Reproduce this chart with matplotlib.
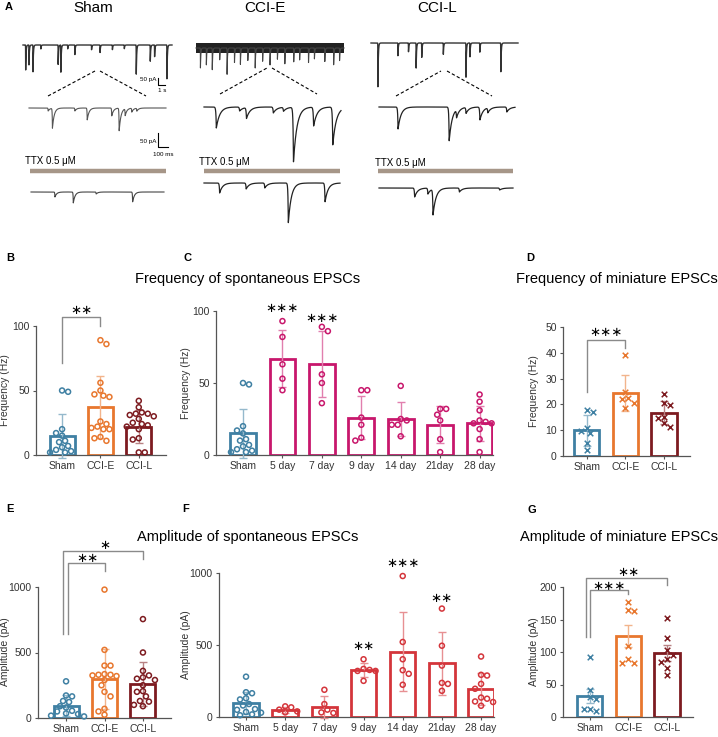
import numpy as np
import matplotlib.pyplot as plt
from matplotlib.colors import to_rgb

W, H = 718, 737
plt.rcParams['font.family'] = ['Liberation Sans', 'DejaVu Sans']

# ---------------- data ----------------
groups3 = ['Sham', 'CCI-E', 'CCI-L']
days = ['Sham', '5 day', '7 day', '9 day', '14 day', '21day', '28 day']

# spontaneous EPSC frequency (Hz)
freq_sham = [50, 49, 20, 17, 15, 11, 10, 7, 6, 4, 3, 2, 2]
freq_ccie = [89, 86, 56, 50, 47, 46, 45, 26, 24, 22, 21, 20, 20, 14, 13, 11]
freq_ccil = [42, 37, 33, 32, 32, 31, 30, 28, 25, 24, 23, 22, 20, 13, 12, 2, 2]
freq3_mean = [15, 37, 22]
freq3_sd = [17, 24, 13]

freq_5d = [93, 82, 63, 53, 45]
freq_7d = [89, 86, 56, 50, 36]
freq_9d = [45, 45, 26, 21, 12, 10]
freq_14d = [48, 25, 24, 21, 21, 13]
freq_21d = [32, 32, 28, 24, 11, 2]
freq_28d = [42, 37, 31, 24, 23, 22, 22, 18, 11, 2]
freq_days_mean = [15, 67, 63, 26, 25, 21, 22]
freq_days_sd = [17, 20, 23, 15, 12, 13, 12]

# miniature EPSC frequency (Hz)
mfreq_sham = [18, 17, 11, 9.5, 9, 5, 2.5]
mfreq_ccie = [39, 24.8, 22.6, 22, 20.7, 18.6]
mfreq_ccil = [24, 20.5, 19.8, 15.1, 14.7, 12.8, 11.2]
mfreq_mean = [10, 24.3, 16.8]
mfreq_sd = [6, 7, 4.5]

# spontaneous EPSC amplitude (pA)
amp_sham = [280, 172, 165, 130, 122, 90, 80, 55, 50, 35, 30, 18, 12]
amp_ccie = [980, 520, 400, 400, 335, 330, 330, 325, 320, 290, 250, 200, 165, 70, 50, 25]
amp_ccil = [755, 500, 360, 325, 310, 300, 290, 250, 205, 200, 165, 130, 125, 100, 90]
amp3_mean = [95, 296, 261]
amp3_sd = [77, 228, 167]

amp_5d = [74, 67, 51, 39, 32]
amp_7d = [189, 90, 51, 32, 28]
amp_9d = [401, 334, 327, 320, 320, 251]
amp_14d = [979, 521, 401, 325, 300, 224]
amp_21d = [753, 495, 357, 237, 230, 182]
amp_28d = [420, 293, 288, 230, 196, 135, 127, 108, 104, 78]
amp_days_mean = [95, 51, 69, 327, 454, 373, 196]
amp_days_sd = [77, 20, 74, 46, 276, 219, 112]

# miniature EPSC amplitude (pA)
mamp_sham = [92, 41.5, 30.7, 27.7, 12.8, 12, 8.7]
mamp_ccie = [177, 165, 163, 108.7, 89.7, 83, 83]
mamp_ccil = [152.8, 121, 102.6, 96, 89.7, 84, 76, 65]
mamp_mean = [32, 124, 98.5]
mamp_sd = [11, 17, 12]

# example traces: events as (position along trace, depth in px)
sham_top_ev = [(0.018, 25), (0.04, 20), (0.067, 27), (0.12, 4), (0.236, 20), (0.254, 28),
               (0.3, 4), (0.348, 10), (0.46, 5), (0.517, 8), (0.6, 5), (0.68, 4),
               (0.76, 32), (0.854, 18), (0.883, 13), (0.966, 35)]
ccie_top_ev = [(0.03, 20), (0.07, 17), (0.11, 22), (0.16, 12), (0.21, 27), (0.26, 15),
               (0.3, 17), (0.35, 13), (0.4, 21), (0.45, 14), (0.5, 18), (0.55, 12),
               (0.6, 17), (0.66, 15), (0.7, 13), (0.76, 16), (0.8, 12), (0.87, 15),
               (0.93, 18), (0.97, 13)]
ccil_top_ev = [(0.047, 44), (0.183, 13), (0.255, 9), (0.307, 26), (0.345, 15),
               (0.492, 12), (0.646, 37), (0.673, 15), (0.74, 10), (0.883, 32)]
sham_zoom_ev = [(0.14, 3), (0.171, 20), (0.335, 3), (0.425, 12), (0.604, 8), (0.658, 23),
                (0.702, 7), (0.75, 4), (0.787, 3)]
ccie_zoom_ev = [(0.09, 21), (0.26, 4), (0.31, 11), (0.506, 6), (0.58, 4), (0.653, 55),
                (0.8, 19), (0.94, 38)]
ccil_zoom_ev = [(0.14, 22), (0.516, 34), (0.57, 8), (0.64, 6), (0.742, 13), (0.8, 5), (0.94, 5)]
sham_ttx_ev = [(0.18, 5), (0.318, 11), (0.49, 2), (0.764, 10)]
ccie_ttx_ev = [(0.115, 10), (0.31, 6), (0.447, 5), (0.62, 40), (0.89, 19)]
ccil_ttx_ev = [(0.266, 9), (0.365, 6), (0.403, 26), (0.6, 4), (0.9, 2)]

# ---------------- styles ----------------
c_sham = '#3f80a3'
c_e = '#e8772e'
c_l = '#7d1b20'
c_mag = '#c8176c'
c_red = '#d4353b'
spine_c = '#555555'

fig = plt.figure(figsize=(W / 100, H / 100), dpi=100)


def px_axes(x0, y0, x1, y1):
    return fig.add_axes([x0 / W, 1 - y1 / H, (x1 - x0) / W, (y1 - y0) / H])


def ftext(x, y, s, **kw):
    fig.text(x / W, 1 - y / H, s, **kw)


def lighter(c, f=0.45):
    r = np.array(to_rgb(c))
    return tuple(r + (1 - r) * f)


# ---------------- panel A ----------------
axA = px_axes(0, 0, W, 240)
axA.set_xlim(0, W)
axA.set_ylim(240, 0)
axA.axis('off')


def trace(x0, x1, base, events, tau, lw=0.8, color='#222222'):
    x = np.linspace(x0, x1, 3000)
    y = np.full_like(x, base, dtype=float)
    for f, d in events:
        t = x - (x0 + f * (x1 - x0))
        y += np.where(t >= 0, d * np.exp(-t / tau), d * np.exp(t / (tau * 0.12)))
    axA.plot(x, y, color=color, lw=lw)


# top traces
trace(23, 172, 45, sham_top_ev, 0.4, lw=1.0, color='#333333')
axA.fill_between([196, 344], [43, 43], [53, 53], color='#222222', lw=0)
trace(196, 344, 48, ccie_top_ev, 0.4, lw=0.8, color='#444444')
trace(371, 518, 43, ccil_top_ev, 0.4, lw=1.0, color='#333333')

# dashed zoom lines
for (xa, ya, xb, yb) in [(48, 96, 95, 71), (100, 71, 146, 96),
                         (220, 94, 267, 68), (272, 68, 317, 94),
                         (396, 96, 441, 71), (447, 71, 492, 96)]:
    axA.plot([xa, xb], [ya, yb], color='k', lw=0.8, ls=(0, (3, 2)))

# zoomed traces
trace(29, 166, 108, sham_zoom_ev, 1.8, lw=0.8, color='#555555')
trace(204, 341, 107, ccie_zoom_ev, 3.5, lw=0.9)
trace(379, 515, 107, ccil_zoom_ev, 3.0, lw=0.9)

# TTX bars and traces
for tx, ty, bx0, bx1 in [(25, 161, 30, 166), (199, 162, 204, 340), (375, 163, 378, 513)]:
    axA.text(tx, ty, 'TTX 0.5 μM', fontsize=7, ha='left', va='center')
    axA.plot([bx0, bx1], [171, 171], color='#a69688', lw=3.2, solid_capstyle='butt')
trace(31, 164, 192, sham_ttx_ev, 1.8, lw=0.8, color='#444444')
trace(204, 340, 183, ccie_ttx_ev, 3.0, lw=0.9)
trace(379, 513, 188, ccil_ttx_ev, 3.0, lw=0.9)

# scale bars
axA.plot([158, 158, 165], [78, 85, 85], color='k', lw=0.8)
axA.text(156, 80, '50 pA', fontsize=4.5, ha='right', va='center')
axA.text(162, 91, '1 s', fontsize=4.5, ha='center', va='center')
axA.plot([158, 158, 168], [133, 147, 147], color='k', lw=0.8)
axA.text(156, 141, '50 pA', fontsize=4.5, ha='right', va='center')
axA.text(163, 155, '100 ms', fontsize=4.5, ha='center', va='center')

for x, s in [(93, 'Sham'), (265, 'CCI-E'), (437, 'CCI-L')]:
    axA.text(x, 8, s, fontsize=11, ha='center', va='center')


# ---------------- bar panels ----------------
def swarm_x(ax, xc, vals, diam=6.0):
    # simple beeswarm: each point takes the nearest free horizontal slot
    tr = ax.transData
    ppx = tr.transform((1, 0))[0] - tr.transform((0, 0))[0]
    order = sorted(vals, reverse=True)
    placed = []  # (x_px_offset, y_px)
    xs, ys = [], []
    side = 1
    for v in order:
        ypx = tr.transform((xc, v))[1]
        best = None
        for k in range(0, 40):
            cands = [0.0] if k == 0 else [side * k * diam * 0.5, -side * k * diam * 0.5]
            for c in cands:
                if all((c - px) ** 2 + (ypx - py) ** 2 >= (diam * 0.98) ** 2
                       for px, py in placed):
                    best = c
                    break
            if best is not None:
                break
        if best != 0:
            side = -side
        placed.append((best, ypx))
        xs.append(xc + best / ppx)
        ys.append(v)
    return xs, ys


def bar_panel(rect, labels, means, sds, points, colors, marker, ylim, yticks, xlim):
    ax = px_axes(*rect)
    ax.set_xlim(*xlim)
    ax.set_ylim(*ylim)
    x = np.arange(len(labels))
    ax.bar(x, means, width=0.65, color='white', edgecolor=colors, lw=2.0, zorder=2)
    for i in range(len(labels)):
        ax.errorbar(x[i], means[i], yerr=sds[i], color=lighter(colors[i]), lw=1.0,
                    capsize=3.2, capthick=1.0, zorder=3, clip_on=False)
        xs, ys = swarm_x(ax, x[i], points[i])
        if marker == 'o':
            ax.scatter(xs, ys, s=13, facecolor='none', edgecolor=colors[i], lw=1.1,
                       zorder=4, clip_on=False)
        else:
            ax.scatter(xs, ys, s=16, marker='x', color=colors[i], lw=1.1,
                       zorder=4, clip_on=False)
    ax.set_xticks(x)
    ax.set_xticklabels(labels)
    ax.set_yticks(yticks)
    for s in ['top', 'right']:
        ax.spines[s].set_visible(False)
    for s in ['left', 'bottom']:
        ax.spines[s].set_color(spine_c)
        ax.spines[s].set_linewidth(0.9)
    ax.tick_params(colors=spine_c, labelcolor='#333333', labelsize=7.5, length=2.5,
                   width=0.8, pad=2)
    return ax


def bracket(ax, x_left, x_right, y_left, y_top, y_right):
    ax.plot([x_left, x_left, x_right, x_right], [y_left, y_top, y_top, y_right],
            color='#8a8a8a', lw=1.0, clip_on=False, zorder=5)


def stars(ax, x, y, s):
    ax.text(x, y, s, fontsize=9.5, ha='center', va='center', family='DejaVu Sans',
            clip_on=False)


# B
axB = bar_panel((36, 326, 166, 455), groups3, freq3_mean, freq3_sd,
                [freq_sham, freq_ccie, freq_ccil], [c_sham, c_e, c_l], 'o',
                (0, 100), [0, 50, 100], (-0.68, 2.71))
bracket(axB, 0, 1, 71, 107, 100)
stars(axB, 0.5, 112, '∗∗')

# C
axC = bar_panel((216, 311, 493, 455), days, freq_days_mean, freq_days_sd,
                [freq_sham, freq_5d, freq_7d, freq_9d, freq_14d, freq_21d, freq_28d],
                [c_sham] + [c_mag] * 6, 'o', (0, 100), [0, 50, 100], (-0.685, 6.34))
stars(axC, 1, 102, '∗∗∗')
stars(axC, 2, 95, '∗∗∗')

# D
axD = bar_panel((563, 327, 690, 456), groups3, mfreq_mean, mfreq_sd,
                [mfreq_sham, mfreq_ccie, mfreq_ccil], [c_sham, c_e, c_l], 'x',
                (0, 50), [0, 10, 20, 30, 40, 50], (-0.62, 2.675))
bracket(axD, 0, 1, 25, 45, 42)
stars(axD, 0.5, 47.7, '∗∗∗')

# E
axE = bar_panel((38, 587, 171, 718), groups3, amp3_mean, amp3_sd,
                [amp_sham, amp_ccie, amp_ccil], [c_sham, c_e, c_l], 'o',
                (0, 1000), [0, 500, 1000], (-0.73, 2.73))
bracket(axE, 0.05, 1, 645, 1185, 1120)
bracket(axE, -0.07, 2, 645, 1273, 1210)
stars(axE, 0.55, 1215, '∗∗')
stars(axE, 1.0, 1316, '∗')

# F
axF = bar_panel((219, 573, 494, 717), days, amp_days_mean, amp_days_sd,
                [amp_sham, amp_5d, amp_7d, amp_9d, amp_14d, amp_21d, amp_28d],
                [c_sham] + [c_red] * 6, 'o', (0, 1000), [0, 500, 1000], (-0.69, 6.33))
stars(axF, 3, 493, '∗∗')
stars(axF, 4, 1069, '∗∗∗')
stars(axF, 5, 826, '∗∗')

# G
axG = bar_panel((563, 587, 693, 717), groups3, mamp_mean, mamp_sd,
                [mamp_sham, mamp_ccie, mamp_ccil], [c_sham, c_e, c_l], 'x',
                (0, 200), [0, 50, 100, 150, 200], (-0.70, 2.675))
bracket(axG, 0, 1, 123, 196, 190)
bracket(axG, -0.1, 2, 123, 214, 203)
stars(axG, 0.5, 201, '∗∗∗')
stars(axG, 1.0, 223, '∗∗')

# y labels
for x, y, s in [(5, 390, 'Frequency (Hz)'), (186, 383, 'Frequency (Hz)'),
                (534, 391, 'Frequency (Hz)'), (5, 652, 'Amplitude (pA)'),
                (186, 645, 'Amplitude (pA)'), (534, 652, 'Amplitude (pA)')]:
    ftext(x, y, s, fontsize=7.5, rotation=90, ha='center', va='center', color='#333333')

# panel titles
ftext(248, 279, 'Frequency of spontaneous EPSCs', fontsize=10.5, ha='center', va='center')
ftext(617, 279, 'Frequency of miniature EPSCs', fontsize=10.5, ha='center', va='center')
ftext(248, 537, 'Amplitude of spontaneous EPSCs', fontsize=10.5, ha='center', va='center')
ftext(619, 537, 'Amplitude of miniature EPSCs', fontsize=10.5, ha='center', va='center')

# panel letters
for x, y, s in [(5, 7, 'A'), (6, 258, 'B'), (183, 258, 'C'), (526, 258, 'D'),
                (6, 509, 'E'), (182, 509, 'F'), (527, 510, 'G')]:
    ftext(x, y, s, fontsize=8, fontweight='bold', ha='left', va='center')

fig.savefig('out.png', dpi=100)
